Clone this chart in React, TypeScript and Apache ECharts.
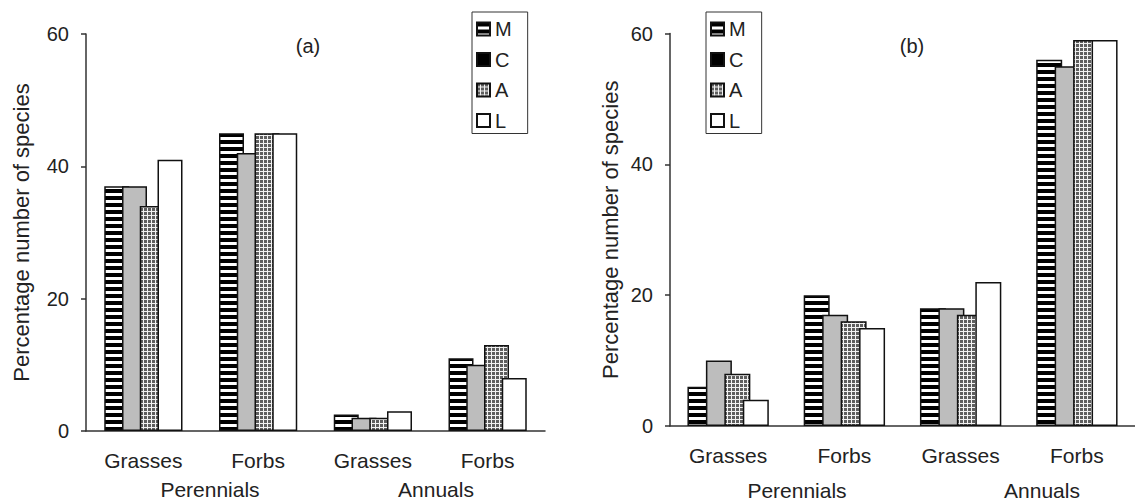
import React, { useEffect, useRef } from 'react';
import * as echarts from 'echarts';

// Category labels along each x axis and the two life-form groups below them
const categories = ['Grasses', 'Forbs', 'Grasses', 'Forbs'];
const groupLabels = ['Perennials', 'Annuals'];
const seriesNames = ['M', 'C', 'A', 'L'];
const panelTitles = ['(a)', '(b)'];
const yAxisName = 'Percentage number of species';

// Panel (a): percentage number of species
const aM = [37, 45, 2.5, 11];
const aC = [37, 42, 2, 10];
const aA = [34, 45, 2, 13];
const aL = [41, 45, 3, 8];

// Panel (b): percentage number of species
const bM = [6, 20, 18, 56];
const bC = [10, 17, 18, 55];
const bA = [8, 16, 17, 59];
const bL = [4, 15, 22, 59];

const FONT = '"Liberation Sans", Arial, sans-serif';

function stripeFill() {
  const c = document.createElement('canvas');
  c.width = 4;
  c.height = 7;
  const ctx = c.getContext('2d')!;
  ctx.fillStyle = '#ffffff';
  ctx.fillRect(0, 0, 4, 7);
  ctx.fillStyle = '#000000';
  ctx.fillRect(0, 0, 4, 4);
  return { image: c, repeat: 'repeat' };
}

function gridFill() {
  const c = document.createElement('canvas');
  c.width = 4;
  c.height = 4;
  const ctx = c.getContext('2d')!;
  ctx.fillStyle = '#5e5e5e';
  ctx.fillRect(0, 0, 4, 4);
  ctx.fillStyle = '#f2f2f2';
  ctx.fillRect(0, 3, 4, 1);
  ctx.fillRect(3, 0, 1, 4);
  return { image: c, repeat: 'repeat' };
}

export default function App() {
  const ref = useRef<HTMLDivElement>(null);

  useEffect(() => {
    if (!ref.current) return;
    const chart = echarts.init(ref.current, null, { renderer: 'svg' });

    const fills: any[] = [stripeFill(), '#bdbdbd', gridFill(), '#ffffff'];
    const panels = [
      [aM, aC, aA, aL],
      [bM, bC, bA, bL],
    ];
    const barWidths = [25, 26];

    const series: any[] = [];
    panels.forEach((vals, p) => {
      vals.forEach((data, i) => {
        series.push({
          type: 'bar',
          name: seriesNames[i],
          xAxisIndex: p,
          yAxisIndex: p,
          data,
          barWidth: barWidths[p],
          barGap: '-29%',
          itemStyle: { color: fills[i], borderColor: '#111', borderWidth: 1.5 },
        });
      });
    });

    const axisLine = { show: true, lineStyle: { color: '#333', width: 1.5 } };

    const xAxis = [0, 1].map((p) => ({
      type: 'category',
      gridIndex: p,
      data: categories,
      axisLine,
      axisTick: { show: false },
      axisLabel: { fontSize: 21, color: '#222', margin: 19, fontFamily: FONT },
    }));

    const nameGaps = [54, 49];
    const yAxis = [0, 1].map((p) => ({
      type: 'value',
      gridIndex: p,
      min: 0,
      max: 60,
      interval: 20,
      splitLine: { show: false },
      axisLine,
      axisTick: { show: true, length: 5, lineStyle: { color: '#333', width: 1.5 } },
      axisLabel: { fontSize: 20, color: '#222', margin: 17, fontFamily: FONT },
      name: yAxisName,
      nameLocation: 'middle',
      nameGap: nameGaps[p],
      nameTextStyle: { fontSize: 22, color: '#222', fontFamily: FONT },
    }));

    const legendData = seriesNames.map((n, i) =>
      i === 1 ? { name: n, itemStyle: { color: '#000' } } : { name: n }
    );
    const legendBase = {
      orient: 'vertical',
      top: 12,
      padding: [7, 16, 3, 4],
      itemWidth: 13,
      itemHeight: 13,
      itemGap: 10.5,
      icon: 'rect',
      borderColor: '#333',
      borderWidth: 1,
      selectedMode: false,
      textStyle: { fontSize: 20, lineHeight: 20, color: '#222', fontFamily: FONT },
      data: legendData,
    };

    const groupPos = [
      { x: 210, y: 489 },
      { x: 436, y: 489 },
      { x: 797, y: 490 },
      { x: 1042, y: 490 },
    ];
    const graphic: any[] = groupPos.map((pos, k) => ({
      type: 'text',
      x: pos.x,
      y: pos.y,
      style: {
        text: groupLabels[k % 2],
        fontSize: 21,
        fontFamily: FONT,
        fill: '#222',
        align: 'center',
        verticalAlign: 'middle',
      },
    }));
    const titlePos = [
      { x: 308, y: 46 },
      { x: 912, y: 46 },
    ];
    titlePos.forEach((pos, k) => {
      graphic.push({
        type: 'text',
        x: pos.x,
        y: pos.y,
        style: {
          text: panelTitles[k],
          fontSize: 20,
          fontFamily: FONT,
          fill: '#222',
          align: 'center',
          verticalAlign: 'middle',
        },
      });
    });

    chart.setOption({
      animation: false,
      backgroundColor: '#ffffff',
      textStyle: { fontFamily: FONT },
      grid: [
        { left: 86, top: 34, width: 459, height: 397 },
        { left: 670, top: 33.5, width: 482, height: 392.5 },
      ],
      xAxis,
      yAxis,
      legend: [
        { ...legendBase, left: 472 },
        { ...legendBase, left: 706 },
      ],
      series,
      graphic,
    });

    return () => chart.dispose();
  }, []);

  return (
    <div
      ref={ref}
      style={{ position: 'absolute', left: 0, top: 0, width: 1135, height: 503, background: '#fff' }}
    />
  );
}
